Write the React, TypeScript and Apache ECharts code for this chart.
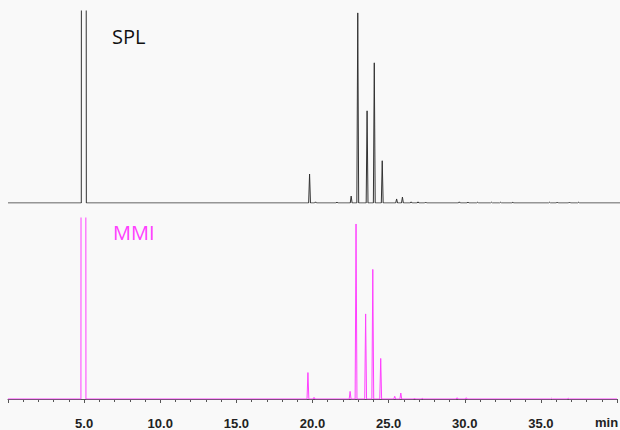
import React, { useEffect, useRef } from 'react';
import * as echarts from 'echarts';

// Solvent peak (saturated, clipped at top of each panel), minutes
const solventStart = 4.81;
const solventEnd = 5.1;

// SPL (black) trace: retention times (min) and heights (% of panel)
const splTimes = [19.71, 20.1, 21.5, 22.43, 22.86, 23.47, 23.94, 24.46, 25.4, 25.78, 26.35, 26.8, 27.3, 29.5, 30.06, 30.7, 31.6, 32.2, 33.0, 35.4, 35.9, 36.7, 37.3];
const splHeights = [15.1, 0.6, 0.5, 3.6, 99, 48, 73, 22, 2.1, 3.1, 0.6, 0.6, 0.5, 0.6, 0.5, 0.4, 0.4, 0.4, 0.4, 0.4, 0.5, 0.5, 0.4];

// MMI (magenta) trace
const mmiTimes = [19.7, 20.1, 22.47, 22.86, 23.49, 23.96, 24.48, 25.4, 25.8, 26.7, 27.2, 29.5, 30.1, 35.7, 36.8];
const mmiHeights = [14.6, 0.9, 4.2, 96.7, 47, 71.6, 22.4, 1.5, 3.3, 0.5, 0.4, 0.7, 0.7, 0.4, 0.5];

const xMin = 0;
const xMax = 40;
const tickInterval = 5;

function buildTrace(times: number[], heights: number[]) {
  const pts: number[][] = [
    [xMin, 0],
    [solventStart - 0.02, 0],
    [solventStart, 300],
    [solventEnd, 300],
    [solventEnd + 0.02, 0],
  ];
  times.forEach((t, i) => {
    pts.push([t - 0.06, 0], [t, heights[i]], [t + 0.06, 0]);
  });
  pts.push([xMax, 0]);
  return pts;
}

export default function App() {
  const ref = useRef<HTMLDivElement>(null);
  useEffect(() => {
    if (!ref.current) return;
    const chart = echarts.init(ref.current, undefined, { renderer: 'svg' });
    const labelFmt = (v: number) => (v > xMin && v < xMax && v % 5 === 0 ? v.toFixed(1) : '');
    chart.setOption({
      animation: false,
      backgroundColor: '#f9f9f9',
      grid: [
        { left: 8, width: 615, top: 11, height: 192 },
        { left: 8, width: 615, top: 218, height: 183 },
      ],
      xAxis: [
        { type: 'value', gridIndex: 0, min: xMin, max: xMax, show: false },
        {
          type: 'value', gridIndex: 1, min: xMin, max: xMax, interval: tickInterval, offset: 14,
          axisLine: { show: true, lineStyle: { color: '#555', width: 1 } },
          axisTick: { show: true, length: 4, lineStyle: { color: '#555' } },
          minorTick: { show: true, splitNumber: 5, length: 3, lineStyle: { color: '#555' } },
          splitLine: { show: false },
          axisLabel: { formatter: labelFmt, fontWeight: 'bold', fontSize: 13, fontFamily: 'Liberation Sans', color: '#222', margin: 4 },
        },
      ],
      yAxis: [
        { type: 'value', gridIndex: 0, min: 0, max: 100, show: false },
        { type: 'value', gridIndex: 1, min: 0, max: 100, show: false },
      ],
      series: [
        {
          type: 'line', xAxisIndex: 0, yAxisIndex: 0, data: buildTrace(splTimes, splHeights),
          showSymbol: false, clip: true, lineStyle: { color: '#333', width: 1 },
        },
        {
          type: 'line', xAxisIndex: 1, yAxisIndex: 1, data: buildTrace(mmiTimes, mmiHeights),
          showSymbol: false, clip: true, lineStyle: { color: '#ff40ff', width: 1 },
        },
      ],
      graphic: [
        { type: 'text', left: 112, top: 26, style: { text: 'SPL', font: '20px "Open Sans"', fill: '#111' } },
        { type: 'text', left: 113, top: 222, style: { text: 'MMI', font: '20px "Open Sans"', fill: '#ff40ff' } },
        { type: 'text', left: 595, top: 416, style: { text: 'min', font: 'bold 13px "Liberation Sans"', fill: '#222' } },
      ],
    });
    return () => chart.dispose();
  }, []);
  return <div ref={ref} style={{ position: 'absolute', left: 0, top: 0, width: 620, height: 430 }} />;
}
